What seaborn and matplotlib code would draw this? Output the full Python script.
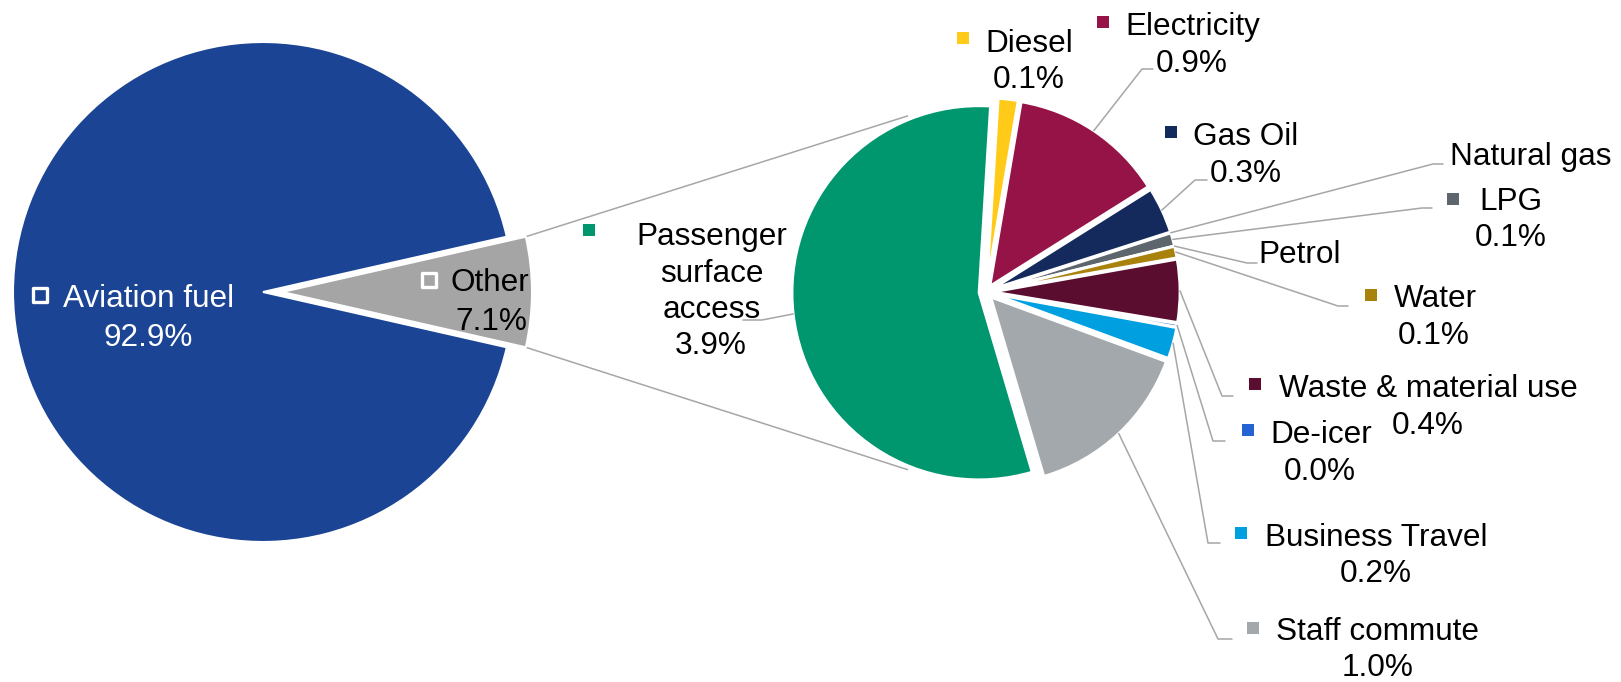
import matplotlib
matplotlib.use("Agg")
import matplotlib.pyplot as plt
import seaborn as sns
import numpy as np

# ---------------- data ----------------
main_labels = ["Other", "Aviation fuel"]
main_values = [7.1, 92.9]
main_pct = ["7.1%", "92.9%"]
main_colors = ["#A5A5A5", "#1B4494"]

sub_labels = ["Diesel", "Electricity", "Gas Oil", "Natural gas", "LPG", "Petrol",
              "Water", "Waste & material use", "De-icer", "Business Travel",
              "Staff commute", "Passenger\nsurface\naccess"]
sub_values = [0.12, 0.94, 0.28, 0.0, 0.08, 0.0, 0.07, 0.38, 0.02, 0.19, 1.04, 3.9]
sub_pct = ["0.1%", "0.9%", "0.3%", "", "0.1%", "", "0.1%", "0.4%", "0.0%",
           "0.2%", "1.0%", "3.9%"]
sub_colors = ["#FFCA18", "#961348", "#142A5C", "#8C8C8C", "#5E666D", "#B0B0B0",
              "#A9820C", "#5B0D30", "#2463D3", "#00A0E0", "#A2A8AB", "#00966E"]
sub_has_key = [True, True, True, False, True, False, True, True, True, True, True, True]

# ---------------- layout (pixel positions, y measured from top) ----------------
W, H = 1621, 682
LS = 36.5  # line step
# name center x, first baseline, pct center x, key marker (x, y), leader elbow, leader end
sub_layout = [
    dict(cx=1029.5, base=52, pcx=1029, mk=(962.5, 38), elbow=None, end=None),
    dict(cx=1193, base=35, pcx=1192, mk=(1102.5, 21.5), elbow=(1142, 69), end=(1153, 69)),
    dict(cx=1246, base=145, pcx=1246, mk=(1171, 132), elbow=(1195, 180), end=(1207, 180)),
    dict(cx=1531, base=165, pcx=1531, mk=None, elbow=(1433, 164), end=(1443, 164)),
    dict(cx=1511, base=210, pcx=1511, mk=(1452.5, 198.5), elbow=(1422, 208), end=(1432, 208)),
    dict(cx=1300, base=263, pcx=1300, mk=None, elbow=(1247, 263), end=(1257, 263)),
    dict(cx=1435, base=307, pcx=1434, mk=(1371, 294.5), elbow=(1338, 306), end=(1348, 306)),
    dict(cx=1428, base=397, pcx=1428, mk=(1255, 384), elbow=(1222, 396), end=(1233, 396)),
    dict(cx=1321, base=443, pcx=1320, mk=(1247.5, 430), elbow=(1213, 441), end=(1225, 441)),
    dict(cx=1376, base=546, pcx=1376, mk=(1241, 533), elbow=(1208, 543), end=(1220, 543)),
    dict(cx=1378, base=639.5, pcx=1378, mk=(1253, 628), elbow=(1218, 639), end=(1232, 639)),
    dict(cx=712, base=245, pcx=711, mk=(589, 230), elbow=(762, 320), end=(743, 320)),
]
main_layout = [
    dict(cx=490, base=291, pcx=491, mk=(429, 280), color="black"),
    dict(cx=149, base=307, pcx=148, mk=(40, 295), color="white"),
]

sns.set_theme(style="white")
plt.rcParams["font.family"] = ["Liberation Sans", "DejaVu Sans"]
FS = 22.7
GRAY = "#A6A6A6"


def Y(y):
    return H - y


fig = plt.figure(figsize=(W / 100, H / 100), dpi=100)
ax = fig.add_axes([0, 0, 1, 1])

# main pie
start_main = -main_values[0] / sum(main_values) * 180
wedges_main, _ = ax.pie(main_values, colors=main_colors, startangle=start_main,
                        counterclock=True, radius=250, center=(263, Y(292)),
                        explode=[19, 0],
                        wedgeprops=dict(edgecolor="white", linewidth=1.5))

# secondary pie
wedges_sub, _ = ax.pie(sub_values, colors=sub_colors, startangle=86.5,
                       counterclock=False, radius=187, center=(986, Y(292)),
                       explode=[7] * len(sub_values),
                       wedgeprops=dict(edgecolor="white", linewidth=2))


def on_rim(w, ang, k=1.0):
    a = np.radians(ang)
    return w.center[0] + k * w.r * np.cos(a), w.center[1] + k * w.r * np.sin(a)


# connector lines between pies
wo = wedges_main[0]
wg = wedges_sub[-1]
for a_o, a_g in [(wo.theta2, 112.0), (wo.theta1, -112.0)]:
    x0, y0 = on_rim(wo, a_o)
    x1, y1 = on_rim(wg, a_g, 1.02)
    ax.plot([x0, x1], [y0, y1], color=GRAY, lw=1.1, zorder=0.5)

# main labels
for i, lay in enumerate(main_layout):
    ax.text(lay["cx"], Y(lay["base"]), main_labels[i], fontsize=FS, color=lay["color"],
            ha="center", va="baseline", zorder=5)
    ax.text(lay["pcx"], Y(lay["base"] + LS + 3), main_pct[i], fontsize=FS, color=lay["color"],
            ha="center", va="baseline", zorder=5)
    mx, my = lay["mk"]
    ax.scatter([mx], [Y(my)], marker="s", s=(13.5 * 0.72) ** 2, facecolor=main_colors[i],
               edgecolor="white", linewidths=2.4, zorder=6)

# secondary labels
for i, lay in enumerate(sub_layout):
    lines = sub_labels[i].split("\n")
    for j, ln in enumerate(lines):
        ax.text(lay["cx"], Y(lay["base"] + j * LS), ln, fontsize=FS, color="black",
                ha="center", va="baseline", zorder=5)
    if sub_pct[i]:
        ax.text(lay["pcx"], Y(lay["base"] + len(lines) * LS), sub_pct[i], fontsize=FS,
                color="black", ha="center", va="baseline", zorder=5)
    if sub_has_key[i] and lay["mk"] is not None:
        mx, my = lay["mk"]
        ax.scatter([mx], [Y(my)], marker="s", s=(11.5 * 0.72) ** 2, color=sub_colors[i],
                   linewidths=0, zorder=6)
    if lay["elbow"] is not None:
        w = wedges_sub[i]
        ax_, ay_ = on_rim(w, 0.5 * (w.theta1 + w.theta2))
        ex, ey = lay["elbow"]
        lx, ly = lay["end"]
        ax.plot([ax_, ex, lx], [ay_, Y(ey), Y(ly)], color=GRAY, lw=1.1, zorder=4)

ax.set_xlim(0, W)
ax.set_ylim(0, H)
ax.set_aspect("equal")
ax.axis("off")
fig.savefig("out.png", dpi=100, facecolor="white")
